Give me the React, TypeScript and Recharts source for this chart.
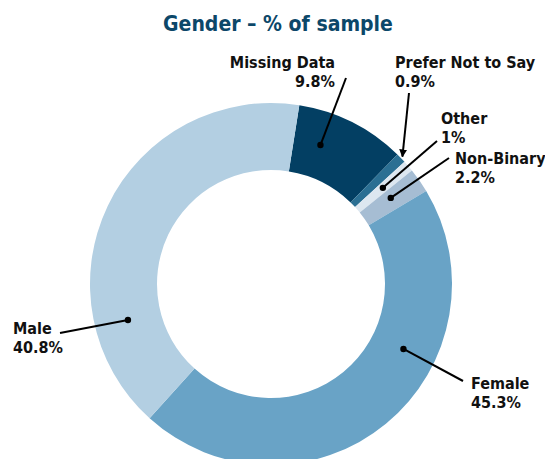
import React from 'react'
import { PieChart, Pie, Cell } from 'recharts'

const categories = ['Missing Data', 'Prefer Not to Say', 'Other', 'Non-Binary', 'Female', 'Male']
const shares = [9.8, 0.9, 1, 2.2, 45.3, 40.8]
const shareLabels = ['9.8%', '0.9%', '1%', '2.2%', '45.3%', '40.8%']
const colors = ['#033f63', '#2b6f93', '#dde7f0', '#a6bdd3', '#69a3c6', '#b3cfe2']

const data = categories.map((name, i) => ({ name, value: shares[i], pct: shareLabels[i] }))

const FONT = '"DejaVu Sans Condensed", "Liberation Sans", Arial, sans-serif'
const RAD = Math.PI / 180

// callout layout: text spot, where the leader starts, how far along the slice it points
type Callout = { x: number; y: number; anchor: 'start' | 'end'; from: [number, number]; frac: number; arrow?: boolean }
const callouts: Record<string, Callout> = {
    'Missing Data': { x: 335, y: 68, anchor: 'end', from: [346, 78], frac: 0.3 },
    'Prefer Not to Say': { x: 395, y: 68, anchor: 'start', from: [409, 93], frac: 0.5, arrow: true },
    Other: { x: 441, y: 124, anchor: 'start', from: [437, 141], frac: 0.5 },
    'Non-Binary': { x: 455, y: 164, anchor: 'start', from: [449, 158], frac: 0.4 },
    Female: { x: 471, y: 389, anchor: 'start', from: [463, 381], frac: 0.35 },
    Male: { x: 13, y: 334, anchor: 'start', from: [60, 333], frac: 0.23 },
}

const renderLabel = (props: any) => {
    const { cx, cy, innerRadius, outerRadius, startAngle, endAngle, name, payload, index } = props
    const c = callouts[name]
    if (!c) return null
    const a = startAngle + c.frac * (endAngle - startAngle)
    const r = c.arrow ? outerRadius + 2 : (innerRadius + outerRadius) / 2
    const px = cx + r * Math.cos(-a * RAD)
    const py = cy + r * Math.sin(-a * RAD)
    const pct = payload?.pct ?? shareLabels[index]
    return (
        <g key={name}>
            <line
                x1={c.from[0]}
                y1={c.from[1]}
                x2={px}
                y2={py}
                stroke='#000'
                strokeWidth={2}
                markerEnd={c.arrow ? 'url(#tip)' : undefined}
            />
            {!c.arrow && <circle cx={px} cy={py} r={3.2} fill='#000' />}
            <text x={c.x} y={c.y} textAnchor={c.anchor} fontFamily={FONT} fontWeight='bold' fontSize={16} fill='#111'>
                {name}
            </text>
            <text x={c.x} y={c.y + 19} textAnchor={c.anchor} fontFamily={FONT} fontWeight='bold' fontSize={16} fill='#111'>
                {pct}
            </text>
        </g>
    )
}

export default function App() {
    return (
        <div style={{ position: 'absolute', left: 0, top: 0, width: 545, height: 459, background: '#fff' }}>
            <PieChart width={545} height={459} margin={{ top: 0, right: 0, bottom: 0, left: 0 }}>
                <defs>
                    <marker id='tip' viewBox='0 0 10 10' refX='9' refY='5' markerWidth='4' markerHeight='4' orient='auto'>
                        <path d='M0,0 L10,5 L0,10 z' fill='#000' />
                    </marker>
                </defs>
                <text x={278} y={31} textAnchor='middle' fontFamily={FONT} fontWeight='bold' fontSize={21} fill='#0c4769'>
                    Gender – % of sample
                </text>
                <Pie
                    data={data}
                    dataKey='value'
                    nameKey='name'
                    cx={271}
                    cy={284}
                    innerRadius={114}
                    outerRadius={181}
                    startAngle={81}
                    endAngle={-279}
                    stroke='none'
                    label={renderLabel}
                    labelLine={false}
                    isAnimationActive={false}
                >
                    {data.map((d, i) => (
                        <Cell key={d.name} fill={colors[i]} />
                    ))}
                </Pie>
            </PieChart>
        </div>
    )
}
